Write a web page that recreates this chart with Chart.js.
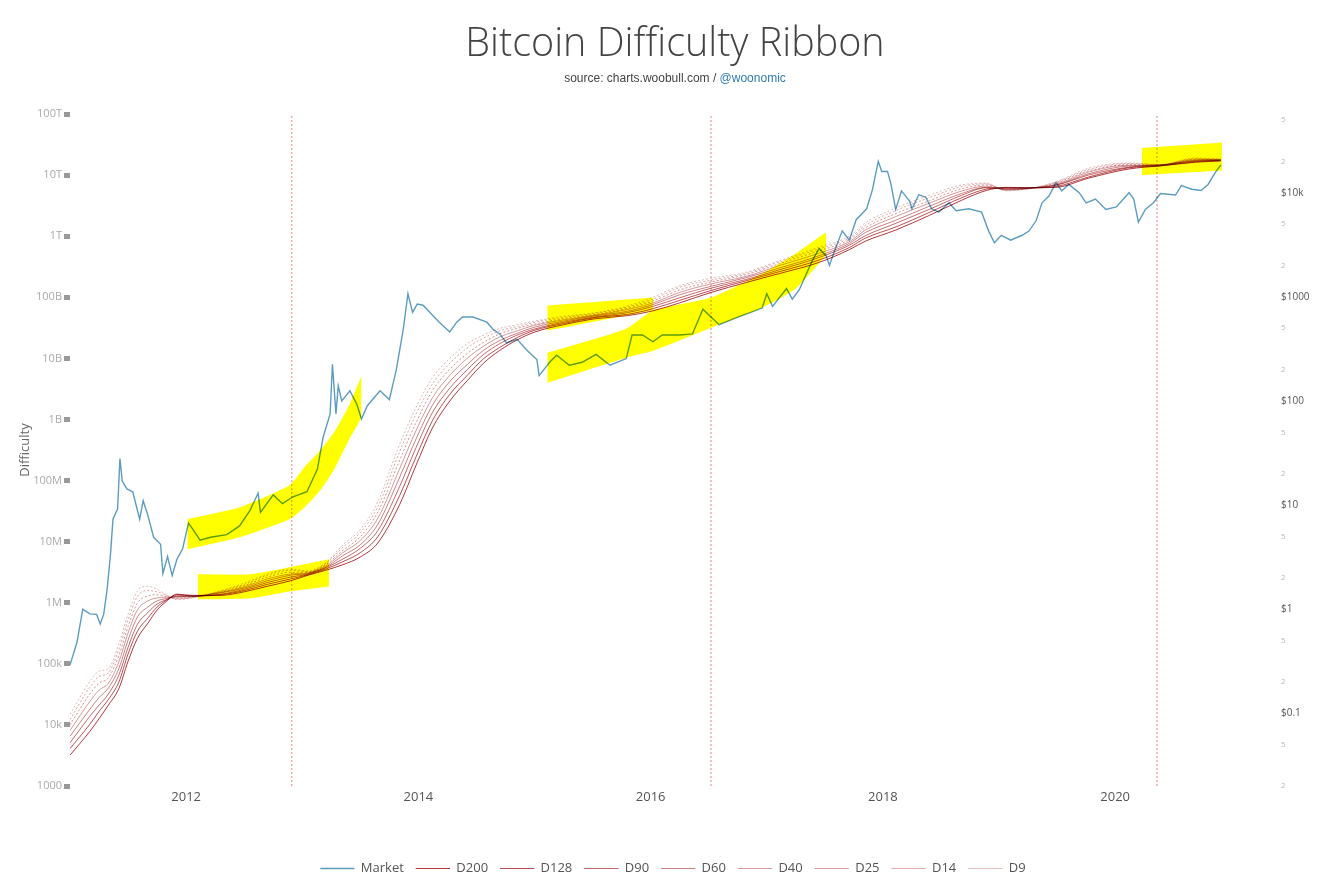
<!DOCTYPE html>
<html>
<head>
<meta charset="utf-8">
<title>Bitcoin Difficulty Ribbon</title>
<script src="https://cdn.jsdelivr.net/npm/chart.js@4.4.0/dist/chart.umd.min.js"></script>
<style>
html, body { margin: 0; padding: 0; background: #fff; overflow: hidden; }
#wrap { position: relative; width: 1322px; height: 884px; }
#title { position: absolute; top: 17px; left: 14px; width: 1322px; text-align: center;
  font-family: 'Open Sans', sans-serif; font-weight: 300; font-size: 39.5px; line-height: 48px; color: #444; }
#sub { position: absolute; top: 71px; left: 14px; width: 1322px; text-align: center;
  font-family: 'Liberation Sans', Arial, sans-serif; font-size: 12px; color: #444; }
#sub span { color: #2f7bb5; }
canvas { position: absolute; left: 0; top: 0; }
</style>
</head>
<body>
<div id="wrap">
  <canvas id="myChart" width="1322" height="885"></canvas>
  <div id="title">Bitcoin Difficulty Ribbon</div>
  <div id="sub">source: charts.woobull.com / <span>@woonomic</span></div>
</div>
<script>
// ribbon samples (decimal year) and difficulty moving averages
const ribbonDates = [2011.00, 2011.17, 2011.25, 2011.33, 2011.42, 2011.50, 2011.58, 2011.67, 2011.75, 2011.83,
  2011.92, 2012.05, 2012.30, 2012.50, 2012.70, 2012.90, 2013.05, 2013.20, 2013.35, 2013.50,
  2013.65, 2013.84, 2013.98, 2014.12, 2014.27, 2014.42, 2014.56, 2014.70, 2014.85, 2015.00,
  2015.25, 2015.53, 2015.80, 2016.02, 2016.25, 2016.52, 2016.82, 2017.11, 2017.45, 2017.71,
  2017.85, 2018.11, 2018.40, 2018.68, 2018.89, 2019.06, 2019.26, 2019.49, 2019.77, 2020.12,
  2020.38, 2020.69, 2020.91];

const d9 = [1.48e4, 5.1e4, 7.6e4, 8.3e4, 2.1e5, 6.5e5, 1.55e6, 1.86e6, 1.66e6, 1.35e6,
  1.12e6, 1.2e6, 1.58e6, 2.09e6, 2.95e6, 3.55e6, 3.31e6, 4.47e6, 8.9e6, 1.58e7,
  4.47e7, 3.98e8, 1.58e9, 4.79e9, 1.0e10, 1.74e10, 2.4e10, 3.09e10, 3.55e10, 4.07e10,
  4.9e10, 5.6e10, 7.2e10, 1.0e11, 1.55e11, 2.04e11, 2.57e11, 3.98e11, 6.6e11, 1.0e12,
  1.66e12, 2.88e12, 4.68e12, 6.9e12, 7.4e12, 5.5e12, 6.0e12, 7.8e12, 1.29e13, 1.58e13,
  1.48e13, 1.91e13, 1.82e13];
const d14 = [1.23e4, 4.1e4, 6.2e4, 7.1e4, 1.7e5, 5.2e5, 1.26e6, 1.58e6, 1.51e6, 1.32e6,
  1.15e6, 1.2e6, 1.55e6, 2.0e6, 2.82e6, 3.39e6, 3.24e6, 4.37e6, 8.1e6, 1.41e7,
  3.7e7, 3.02e8, 1.23e9, 3.8e9, 8.3e9, 1.48e10, 2.14e10, 2.82e10, 3.31e10, 3.89e10,
  4.68e10, 5.5e10, 6.9e10, 9.3e10, 1.45e11, 1.91e11, 2.45e11, 3.8e11, 6.2e11, 9.3e11,
  1.51e12, 2.63e12, 4.27e12, 6.5e12, 7.2e12, 5.6e12, 6.0e12, 7.6e12, 1.23e13, 1.55e13,
  1.48e13, 1.86e13, 1.82e13];
const d25 = [1.0e4, 3.2e4, 4.8e4, 5.9e4, 1.35e5, 4.1e5, 9.8e5, 1.29e6, 1.35e6, 1.26e6,
  1.17e6, 1.23e6, 1.51e6, 1.91e6, 2.63e6, 3.16e6, 3.16e6, 4.17e6, 7.2e6, 1.2e7,
  3.02e7, 2.19e8, 8.9e8, 2.95e9, 6.6e9, 1.2e10, 1.82e10, 2.51e10, 3.09e10, 3.63e10,
  4.47e10, 5.25e10, 6.6e10, 8.7e10, 1.32e11, 1.78e11, 2.34e11, 3.55e11, 5.75e11, 8.7e11,
  1.38e12, 2.34e12, 3.8e12, 6.0e12, 6.9e12, 5.75e12, 6.0e12, 7.4e12, 1.17e13, 1.48e13,
  1.45e13, 1.82e13, 1.78e13];
const d40 = [8.1e3, 2.4e4, 3.7e4, 4.8e4, 1.07e5, 3.2e5, 7.6e5, 1.07e6, 1.2e6, 1.23e6,
  1.23e6, 1.26e6, 1.48e6, 1.82e6, 2.45e6, 2.95e6, 3.09e6, 3.98e6, 6.6e6, 1.05e7,
  2.4e7, 1.58e8, 6.6e8, 2.24e9, 5.25e9, 1.0e10, 1.58e10, 2.24e10, 2.82e10, 3.47e10,
  4.27e10, 5.13e10, 6.3e10, 8.1e10, 1.2e11, 1.66e11, 2.19e11, 3.31e11, 5.25e11, 8.1e11,
  1.26e12, 2.09e12, 3.47e12, 5.5e12, 6.6e12, 5.75e12, 6.1e12, 7.1e12, 1.12e13, 1.45e13,
  1.45e13, 1.78e13, 1.78e13];
const d60 = [6.5e3, 1.8e4, 2.8e4, 4.0e4, 8.3e4, 2.45e5, 5.8e5, 8.5e5, 1.07e6, 1.17e6,
  1.26e6, 1.26e6, 1.45e6, 1.74e6, 2.29e6, 2.82e6, 3.02e6, 3.8e6, 5.9e6, 8.9e6,
  1.91e7, 1.15e8, 4.8e8, 1.7e9, 4.17e9, 7.9e9, 1.35e10, 1.95e10, 2.57e10, 3.24e10,
  4.07e10, 5.0e10, 5.9e10, 7.6e10, 1.1e11, 1.51e11, 2.09e11, 3.02e11, 4.79e11, 7.6e11,
  1.15e12, 1.82e12, 3.09e12, 5.0e12, 6.3e12, 5.9e12, 6.1e12, 6.9e12, 1.05e13, 1.41e13,
  1.45e13, 1.74e13, 1.78e13];
const d90 = [5.1e3, 1.38e4, 2.1e4, 3.2e4, 6.5e4, 1.86e5, 4.4e5, 6.9e5, 9.5e5, 1.12e6,
  1.29e6, 1.29e6, 1.38e6, 1.66e6, 2.14e6, 2.63e6, 2.95e6, 3.72e6, 5.2e6, 7.8e6,
  1.51e7, 8.1e7, 3.47e8, 1.29e9, 3.24e9, 6.5e9, 1.15e10, 1.74e10, 2.4e10, 3.02e10,
  3.89e10, 4.79e10, 5.6e10, 7.1e10, 9.8e10, 1.41e11, 1.95e11, 2.82e11, 4.47e11, 7.1e11,
  1.02e12, 1.62e12, 2.75e12, 4.68e12, 6.2e12, 6.0e12, 6.1e12, 6.8e12, 1.0e13, 1.35e13,
  1.45e13, 1.7e13, 1.74e13];
const d128 = [4.1e3, 1.02e4, 1.66e4, 2.6e4, 5.0e4, 1.45e5, 3.4e5, 5.6e5, 8.5e5, 1.1e6,
  1.35e6, 1.29e6, 1.35e6, 1.58e6, 2.0e6, 2.45e6, 2.88e6, 3.55e6, 4.7e6, 6.6e6,
  1.2e7, 5.75e7, 2.45e8, 9.5e8, 2.57e9, 5.25e9, 9.8e9, 1.51e10, 2.19e10, 2.88e10,
  3.72e10, 4.68e10, 5.25e10, 6.5e10, 8.9e10, 1.29e11, 1.86e11, 2.63e11, 4.07e11, 6.5e11,
  9.3e11, 1.41e12, 2.45e12, 4.27e12, 5.9e12, 6.2e12, 6.2e12, 6.5e12, 9.3e12, 1.32e13,
  1.41e13, 1.66e13, 1.74e13];
const d200 = [3.2e3, 7.8e3, 1.26e4, 2.1e4, 3.9e4, 1.1e5, 2.6e5, 4.6e5, 7.6e5, 1.05e6,
  1.38e6, 1.32e6, 1.32e6, 1.51e6, 1.86e6, 2.29e6, 2.82e6, 3.39e6, 4.2e6, 5.6e6,
  9.5e6, 4.1e7, 1.78e8, 7.2e8, 2.0e9, 4.3e9, 8.3e9, 1.35e10, 2.0e10, 2.69e10,
  3.55e10, 4.47e10, 5.0e10, 6.0e10, 8.1e10, 1.2e11, 1.74e11, 2.45e11, 3.72e11, 6.0e11,
  8.3e11, 1.26e12, 2.19e12, 3.89e12, 5.6e12, 6.3e12, 6.2e12, 6.3e12, 8.9e12, 1.26e13,
  1.41e13, 1.62e13, 1.7e13];

// market price (USD)
const priceDates = [2011.00, 2011.06, 2011.11, 2011.17, 2011.23, 2011.26, 2011.29, 2011.32, 2011.35, 2011.37,
  2011.41, 2011.43, 2011.45, 2011.49, 2011.54, 2011.60, 2011.63, 2011.67, 2011.72, 2011.78,
  2011.80, 2011.84, 2011.88, 2011.92, 2011.97, 2012.02, 2012.06, 2012.12, 2012.21, 2012.35,
  2012.46, 2012.55, 2012.62, 2012.64, 2012.75, 2012.83, 2012.92, 2013.04, 2013.13, 2013.18,
  2013.24, 2013.26, 2013.29, 2013.31, 2013.34, 2013.41, 2013.47, 2013.51, 2013.56, 2013.67,
  2013.75, 2013.81, 2013.87, 2013.91, 2013.95, 2013.99, 2014.04, 2014.12, 2014.18, 2014.27,
  2014.33, 2014.38, 2014.47, 2014.59, 2014.64, 2014.70, 2014.76, 2014.85, 2014.93, 2015.02,
  2015.04, 2015.13, 2015.19, 2015.30, 2015.41, 2015.53, 2015.65, 2015.79, 2015.84, 2015.93,
  2016.02, 2016.10, 2016.25, 2016.36, 2016.45, 2016.52, 2016.59, 2016.74, 2016.85, 2016.96,
  2017.00, 2017.05, 2017.17, 2017.22, 2017.28, 2017.39, 2017.45, 2017.51, 2017.54, 2017.58,
  2017.65, 2017.71, 2017.77, 2017.86, 2017.91, 2017.96, 2017.99, 2018.04, 2018.07, 2018.11,
  2018.16, 2018.23, 2018.25, 2018.31, 2018.37, 2018.42, 2018.48, 2018.57, 2018.63, 2018.74,
  2018.85, 2018.91, 2018.96, 2019.02, 2019.10, 2019.20, 2019.26, 2019.32, 2019.37, 2019.43,
  2019.49, 2019.54, 2019.60, 2019.69, 2019.75, 2019.83, 2019.92, 2020.01, 2020.12, 2020.16,
  2020.20, 2020.26, 2020.33, 2020.39, 2020.52, 2020.57, 2020.66, 2020.74, 2020.80, 2020.86,
  2020.91];
const priceUsd = [0.29, 0.48, 1.0, 0.9, 0.89, 0.72, 0.89, 1.56, 3.5, 7.3,
  9.2, 28, 17, 14.3, 13.4, 7.3, 11, 8.0, 4.9, 4.2,
  2.2, 3.2, 2.1, 3.0, 3.8, 6.7, 5.8, 4.6, 4.9, 5.2,
  6.3, 8.9, 13, 8.5, 12.5, 10.3, 12, 13.4, 22, 45,
  75, 225, 75, 140, 100, 125, 93, 67, 90, 125,
  103, 200, 490, 1070, 710, 850, 830, 670, 570, 460,
  570, 640, 640, 570, 490, 440, 360, 390, 310, 250,
  175, 235, 275, 220, 235, 280, 220, 255, 430, 430,
  370, 430, 430, 440, 760, 640, 540, 630, 700, 780,
  1070, 810, 1200, 950, 1170, 2200, 2900, 2500, 2000, 2700,
  4300, 3500, 5500, 7000, 10700, 20000, 16000, 16000, 12000, 6900,
  10400, 8300, 7000, 9600, 9000, 7000, 6500, 8000, 6700, 7000,
  6500, 4300, 3300, 3900, 3500, 3900, 4300, 5400, 8000, 9300,
  12500, 10400, 12000, 10000, 8000, 8700, 6900, 7300, 10000, 8700,
  5200, 6900, 8000, 9800, 9500, 11700, 10800, 10500, 12000, 15500,
  18500];

// halvings
const halvingDates = [2012.91, 2016.52, 2020.36];

// yellow marker strokes: upper and lower edge of each stroke
const hlPriceADates = [2012.01, 2012.46, 2012.89, 2013.02, 2013.15, 2013.28, 2013.41, 2013.51];
const hlPriceATop = [7.3, 9.5, 15.5, 23.2, 33, 51, 94, 174];
const hlPriceABottom = [3.76, 4.9, 7.3, 9.5, 13.6, 22.6, 44, 69];
const hlPriceBDates = [2015.11, 2015.79, 2016.02, 2016.52, 2016.96, 2017.25, 2017.51];
const hlPriceBTop = [290, 494, 737, 984, 1675, 2610, 4160];
const hlPriceBBottom = [149, 260, 303, 505, 787, 1200, 2500];
const hlRibbonADates = [2012.10, 2012.55, 2012.89, 2013.23];
const hlRibbonATop = [2.92e6, 2.92e6, 3.8e6, 5.14e6];
const hlRibbonABottom = [1.13e6, 1.18e6, 1.53e6, 1.85e6];
const hlRibbonBDates = [2015.11, 2016.02];
const hlRibbonBTop = [7.3e10, 9.9e10];
const hlRibbonBBottom = [2.85e10, 6.1e10];
const hlRibbonCDates = [2020.23, 2020.98];
const hlRibbonCTop = [2.77e13, 3.48e13];
const hlRibbonCBottom = [1.0e13, 1.21e13];

// axes
const yearTicks = [2012, 2014, 2016, 2018, 2020];
const diffTicks = [1e3, 1e4, 1e5, 1e6, 1e7, 1e8, 1e9, 1e10, 1e11, 1e12, 1e13, 1e14];
const diffTickLabels = ['1000', '10k', '100k', '1M', '10M', '100M', '1B', '10B', '100B', '1T', '10T', '100T'];
const priceTicks = [0.02, 0.05, 0.1, 0.2, 0.5, 1, 2, 5, 10, 20, 50, 100, 200, 500, 1000, 2000, 5000, 10000, 20000, 50000];
const priceTickLabels = ['2', '5', '$0.1', '2', '5', '$1', '2', '5', '$10', '2', '5', '$100', '2', '5', '$1000', '2', '5', '$10k', '2', '5'];

function pts(dates, vals) {
    return dates.map((d, i) => ({x: d, y: vals[i]}));
}

function ribbon(label, vals, color, dash) {
    return {
        label: label,
        data: pts(ribbonDates, vals),
        yAxisID: 'y',
        borderColor: color,
        backgroundColor: 'transparent',
        borderWidth: 1,
        borderDash: dash,
        pointRadius: 0,
        cubicInterpolationMode: 'monotone'
    };
}

// a marker stroke is an upper edge plus a lower edge filled up to it
function marker(dates, top, bottom, axis) {
    const edge = {
        label: 'hl',
        helper: true,
        yAxisID: axis,
        borderWidth: 0,
        borderColor: 'transparent',
        pointRadius: 0,
        tension: 0.2,
        order: -1
    };
    return [
        Object.assign({}, edge, { data: pts(dates, top), fill: false }),
        Object.assign({}, edge, { data: pts(dates, bottom), fill: '-1', backgroundColor: '#ffff00' })
    ];
}

const datasets = [
    {
        label: 'Market',
        data: pts(priceDates, priceUsd),
        yAxisID: 'y2',
        borderColor: '#5c9cc0',
        backgroundColor: 'transparent',
        borderWidth: 1.4,
        pointRadius: 0
    },
    ribbon('D200', d200, '#b3363b', []),
    ribbon('D128', d128, '#bb4d52', []),
    ribbon('D90', d90, '#c4676b', []),
    ribbon('D60', d60, '#cd8083', []),
    ribbon('D40', d40, '#d5999b', []),
    ribbon('D25', d25, '#d68f92', [2, 2]),
    ribbon('D14', d14, '#dca3a5', [2, 2]),
    ribbon('D9', d9, '#e2b6b7', [2, 2])
];

halvingDates.forEach(h => {
    datasets.push({
        label: 'halving',
        helper: true,
        data: [{x: h, y: 1e3}, {x: h, y: 1e14}],
        yAxisID: 'y',
        borderColor: 'rgba(222,90,90,0.75)',
        borderWidth: 1,
        borderDash: [2, 2],
        pointRadius: 0
    });
});

datasets.push(...marker(hlPriceADates, hlPriceATop, hlPriceABottom, 'y2'));
datasets.push(...marker(hlRibbonADates, hlRibbonATop, hlRibbonABottom, 'y'));
datasets.push(...marker(hlRibbonBDates, hlRibbonBTop, hlRibbonBBottom, 'y'));
datasets.push(...marker(hlPriceBDates, hlPriceBTop, hlPriceBBottom, 'y2'));
datasets.push(...marker(hlRibbonCDates, hlRibbonCTop, hlRibbonCBottom, 'y'));

// lines over white are unchanged by multiply, the yellow strokes tint what is below them
const highlighterBlend = {
    id: 'highlighterBlend',
    beforeDatasetsDraw(chart) {
        chart.ctx.save();
        chart.ctx.globalCompositeOperation = 'multiply';
    },
    afterDatasetsDraw(chart) {
        chart.ctx.restore();
    }
};

const ctx = document.getElementById('myChart');

new Chart(ctx, {
    type: 'line',
    data: { datasets: datasets },
    plugins: [highlighterBlend],
    options: {
        responsive: false,
        animation: false,
        layout: { padding: { top: 114, left: 24, right: 0, bottom: 0 } },
        plugins: {
            title: { display: false },
            tooltip: { enabled: false },
            legend: {
                position: 'bottom',
                labels: {
                    boxWidth: 34,
                    boxHeight: 0,
                    padding: 12,
                    color: '#555',
                    font: { family: 'Open Sans', size: 13 },
                    generateLabels: chart => chart.data.datasets
                        .map((ds, i) => ({
                            text: ds.label,
                            fillStyle: 'transparent',
                            strokeStyle: ds.borderColor,
                            lineWidth: ds.borderWidth,
                            lineDash: ds.borderDash || [],
                            fontColor: '#555',
                            hidden: false,
                            datasetIndex: i
                        }))
                        .filter(item => !chart.data.datasets[item.datasetIndex].helper)
                }
            }
        },
        scales: {
            x: {
                type: 'linear',
                min: 2011.0,
                max: 2020.92,
                grid: { display: false, drawTicks: false },
                border: { display: false },
                afterBuildTicks: scale => { scale.ticks = yearTicks.map(v => ({value: v})); },
                afterFit: scale => { scale.height = 64; },
                ticks: {
                    padding: 3,
                    color: '#555',
                    font: { family: 'Open Sans', size: 13 },
                    callback: v => String(v)
                }
            },
            y: {
                type: 'logarithmic',
                position: 'left',
                min: 1e3,
                max: 1e14,
                border: { display: false },
                grid: { drawOnChartArea: false, tickLength: 6, tickWidth: 5, tickColor: '#999' },
                afterBuildTicks: scale => { scale.ticks = diffTicks.map(v => ({value: v})); },
                afterFit: scale => { scale.width = 46; },
                title: {
                    display: true,
                    text: 'Difficulty',
                    color: '#666',
                    padding: { top: -7 },
                    font: { family: 'Open Sans', size: 13 }
                },
                ticks: {
                    autoSkip: false,
                    padding: 2,
                    color: '#aaa',
                    font: { family: 'Open Sans', size: 11 },
                    callback: (v, i) => diffTickLabels[i]
                }
            },
            y2: {
                type: 'logarithmic',
                position: 'right',
                min: 0.02,
                max: 57000,
                border: { display: false },
                grid: { display: false, drawTicks: false },
                afterBuildTicks: scale => { scale.ticks = priceTicks.map(v => ({value: v})); },
                afterFit: scale => { scale.width = 100; },
                ticks: {
                    autoSkip: false,
                    padding: 59,
                    color: c => priceTickLabels[c.index].charAt(0) === '$' ? '#555' : '#bbb',
                    font: c => ({ family: 'Open Sans', size: priceTickLabels[c.index].charAt(0) === '$' ? 10 : 8 }),
                    callback: (v, i) => priceTickLabels[i]
                }
            }
        }
    }
});
</script>
</body>
</html>
